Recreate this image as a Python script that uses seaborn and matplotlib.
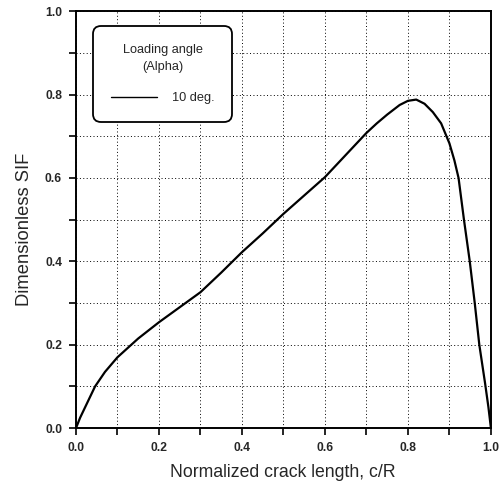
import numpy as np
import pandas as pd
import seaborn as sns
from matplotlib import pyplot as plt
from matplotlib.ticker import MultipleLocator

# values (10 deg. loading angle)
crack_length = [0.0, 0.01, 0.022, 0.046, 0.07, 0.1, 0.15, 0.2, 0.25, 0.3,
                0.35, 0.4, 0.45, 0.5, 0.55, 0.6, 0.65, 0.7, 0.725, 0.75,
                0.78, 0.8, 0.82, 0.84, 0.86, 0.88, 0.9, 0.912, 0.922,
                0.935, 0.949, 0.961, 0.972, 0.986, 0.994, 1.0]
sif = [0.0, 0.025, 0.05, 0.1, 0.135, 0.17, 0.215, 0.254, 0.29, 0.326,
       0.373, 0.422, 0.467, 0.514, 0.558, 0.602, 0.655, 0.708, 0.731, 0.752,
       0.775, 0.785, 0.788, 0.778, 0.758, 0.731, 0.683, 0.642, 0.6,
       0.5, 0.4, 0.3, 0.2, 0.107, 0.05, 0.0]
series_label = "10 deg."
legend_title = "Loading angle\n(Alpha)"

df = pd.DataFrame({"c/R": crack_length, "SIF": sif, "alpha": series_label})

sns.set_style("ticks")
plt.rcParams["font.family"] = ["Liberation Sans", "DejaVu Sans"]

fig = plt.figure(figsize=(5.03, 4.86), dpi=100)
ax = fig.add_axes([0.151, 0.119, 0.825, 0.858])

sns.lineplot(data=df, x="c/R", y="SIF", hue="alpha", palette=["black"],
             linewidth=1.6, sort=False, ax=ax)

ax.set_xlim(0, 1)
ax.set_ylim(0, 1)
ax.xaxis.set_major_locator(MultipleLocator(0.2))
ax.yaxis.set_major_locator(MultipleLocator(0.2))
ax.xaxis.set_minor_locator(MultipleLocator(0.1))
ax.yaxis.set_minor_locator(MultipleLocator(0.1))
ax.xaxis.set_major_formatter(lambda v, p: f"{v:.1f}")
ax.yaxis.set_major_formatter(lambda v, p: f"{v:.1f}")

ax.grid(which="both", color="black", linestyle=(0, (1, 2.5)), linewidth=0.7)
ax.tick_params(which="both", direction="out", length=5, width=1.2,
               color="black", labelsize=8.7, pad=5)
for lbl in ax.get_xticklabels() + ax.get_yticklabels():
    lbl.set_fontweight("bold")

for side in ["top", "right", "bottom", "left"]:
    ax.spines[side].set_visible(True)
    ax.spines[side].set_linewidth(1.4)
    ax.spines[side].set_color("black")

ax.set_xlabel("Normalized crack length, c/R", fontsize=12.7)
ax.set_ylabel("Dimensionless SIF", fontsize=13.2)
ax.xaxis.set_label_coords(0.498, -0.106)
ax.yaxis.set_label_coords(-0.123, 0.477)
ax.xaxis.label.set_verticalalignment("center")
ax.yaxis.label.set_verticalalignment("center")

leg = ax.legend(title=legend_title, loc="upper left",
                bbox_to_anchor=(0.041, 0.964), borderaxespad=0,
                fontsize=9.2, title_fontsize=9.2, handlelength=3.6,
                handletextpad=1.15, borderpad=1.4, labelspacing=1.5,
                fancybox=True, framealpha=1, edgecolor="black")
frame = leg.get_frame()
frame.set_linewidth(1.3)
frame.set_boxstyle("round", pad=0, rounding_size=0.6)
leg.get_title().set_multialignment("center")
leg.get_title().set_linespacing(1.55)
leg.get_lines()[0].set_linewidth(1.0)

fig.savefig("out.png", dpi=100)
